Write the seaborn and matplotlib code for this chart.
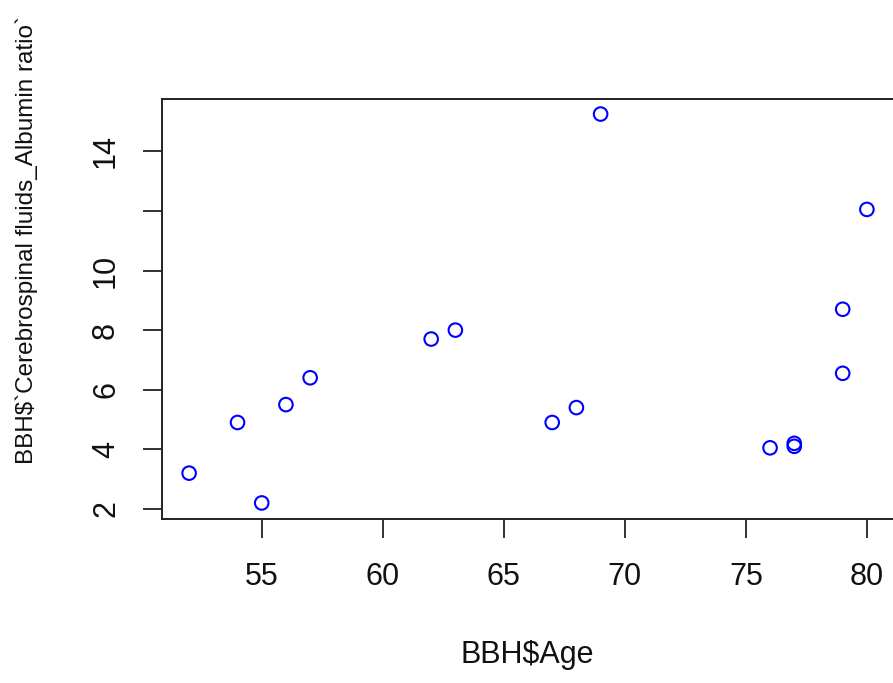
import matplotlib
matplotlib.use("Agg")
import matplotlib.pyplot as plt
import seaborn as sns
import pandas as pd

# Age and CSF/albumin ratio per subject
age = [52, 54, 55, 56, 57, 62, 63, 67, 68, 69, 76, 77, 77, 79, 79, 80]
ratio = [3.2, 4.9, 2.2, 5.5, 6.4, 7.7, 8.0, 4.9, 5.4, 15.25, 4.05, 4.1, 4.2, 6.55, 8.7, 12.05]

x_ticks = [55, 60, 65, 70, 75, 80]
y_ticks = [2, 4, 6, 8, 10, 12, 14]
y_tick_labels = ["2", "4", "6", "8", "10", "", "14"]

x_label = "BBH$Age"
y_label = "BBH$`Cerebrospinal fluids_Albumin ratio`"

df = pd.DataFrame({"age": age, "ratio": ratio})

sns.set_style("ticks")
plt.rcParams["font.family"] = ["Liberation Sans", "DejaVu Sans"]

W, H = 893, 683
fig = plt.figure(figsize=(W / 100, H / 100), dpi=100)
left, right, top, bottom = 162, 894, 98.5, 518.5
ax = fig.add_axes([left / W, 1 - bottom / H, (right - left) / W, (bottom - top) / H])

sns.scatterplot(data=df, x="age", y="ratio", ax=ax, marker="o",
                facecolors="none", edgecolor="#0000ff", linewidth=1.5, s=95)

# R-style 4% padding around the data range
xr = max(age) - min(age)
yr = max(ratio) - min(ratio)
ax.set_xlim(min(age) - 0.04 * xr, max(age) + 0.04 * xr)
ax.set_ylim(min(ratio) - 0.04 * yr, max(ratio) + 0.04 * yr)

ax.set_xticks(x_ticks)
ax.set_xticklabels([str(v) for v in x_ticks])
ax.set_yticks(y_ticks)
ax.set_yticklabels(y_tick_labels, rotation=90, va="center")

ax.tick_params(axis="both", length=13.5, width=1.3, color="#222222",
               labelsize=22, labelcolor="#111111", direction="out")
ax.tick_params(axis="x", pad=18)
ax.tick_params(axis="y", pad=16)

for sp in ax.spines.values():
    sp.set_visible(True)
    sp.set_linewidth(1.4)
    sp.set_color("#222222")

ax.set_xlabel("")
ax.set_ylabel("")
fig.text(527 / W, 1 - 655 / H, x_label, ha="center", va="center",
         fontsize=22, color="#111111")
fig.text(27 / W, 1 - 240 / H, y_label, ha="center", va="center",
         rotation=90, fontsize=17.5, color="#111111")

fig.savefig("out.png", dpi=100)
